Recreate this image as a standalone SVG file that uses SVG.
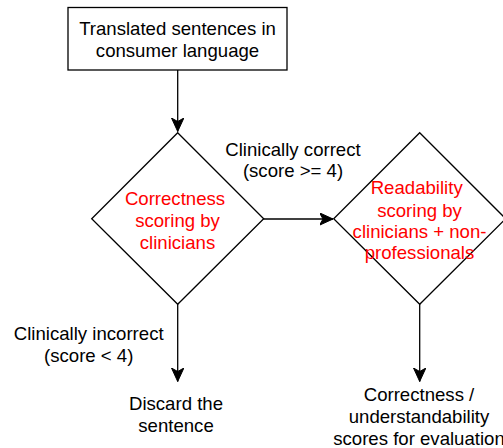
<svg xmlns="http://www.w3.org/2000/svg" width="503" height="448" viewBox="0 0 503 448">
<style>
.t{font-family:"Liberation Sans",Arial,Helvetica,sans-serif;font-size:18.6px;fill:#000;text-anchor:middle}
.r{fill:#FF0000}
.s{fill:#fff;stroke:#000;stroke-width:1.3}
.c{fill:none;stroke:#000;stroke-width:1.3}
</style>
<defs>
<marker id="a" viewBox="0 0 14 13" refX="13.5" refY="6.5" markerWidth="14" markerHeight="13" markerUnits="userSpaceOnUse" orient="auto">
<path d="M0,0.3 L13.5,6.5 L0,12.7 L3.5,6.5 Z" fill="#000" stroke="#000" stroke-width="1"/>
</marker>
</defs>
<g id="connectors">
<path class="c" d="M177.7,70 L177.7,131.5" marker-end="url(#a)"/>
<path class="c" d="M263.3,219 L333,219" marker-end="url(#a)"/>
<path class="c" d="M177.7,304 L177.7,381.5" marker-end="url(#a)"/>
<path class="c" d="M419.7,304 L419.7,381.5" marker-end="url(#a)"/>
</g>
<g id="start">
<rect class="s" x="68" y="7.5" width="219" height="62.5"/>
<text class="t" x="177.5" y="35">Translated sentences in</text>
<text class="t" x="177.5" y="57.3">consumer language</text>
</g>
<g id="correctness">
<path class="s" d="M177.7,132.7 L263.7,218.7 L177.7,304.3 L91.7,218.7 Z"/>
<text class="t r" x="175" y="205">Correctness</text>
<text class="t r" x="177.5" y="227">scoring by</text>
<text class="t r" x="177.5" y="248.5">clinicians</text>
</g>
<g id="readability">
<path class="s" d="M419.7,132.7 L505.7,218.7 L419.7,304.3 L333.7,218.7 Z"/>
<text class="t r" x="416.7" y="194">Readability</text>
<text class="t r" x="419.5" y="216.5">scoring by</text>
<text class="t r" x="419.5" y="237.8">clinicians + non-</text>
<text class="t r" x="419.5" y="259.2">professionals</text>
</g>
<g id="label-correct">
<text class="t" x="293" y="155.5">Clinically correct</text>
<text class="t" x="293" y="177">(score &gt;= 4)</text>
</g>
<g id="label-incorrect">
<text class="t" x="88.7" y="340">Clinically incorrect</text>
<text class="t" x="88.7" y="362">(score &lt; 4)</text>
</g>
<g id="discard">
<text class="t" x="176" y="409.5">Discard the</text>
<text class="t" x="176" y="431.8">sentence</text>
</g>
<g id="scores">
<text class="t" x="419" y="400.5">Correctness /</text>
<text class="t" x="419" y="422.8">understandability</text>
<text class="t" x="419" y="445">scores for evaluation</text>
</g>
</svg>
